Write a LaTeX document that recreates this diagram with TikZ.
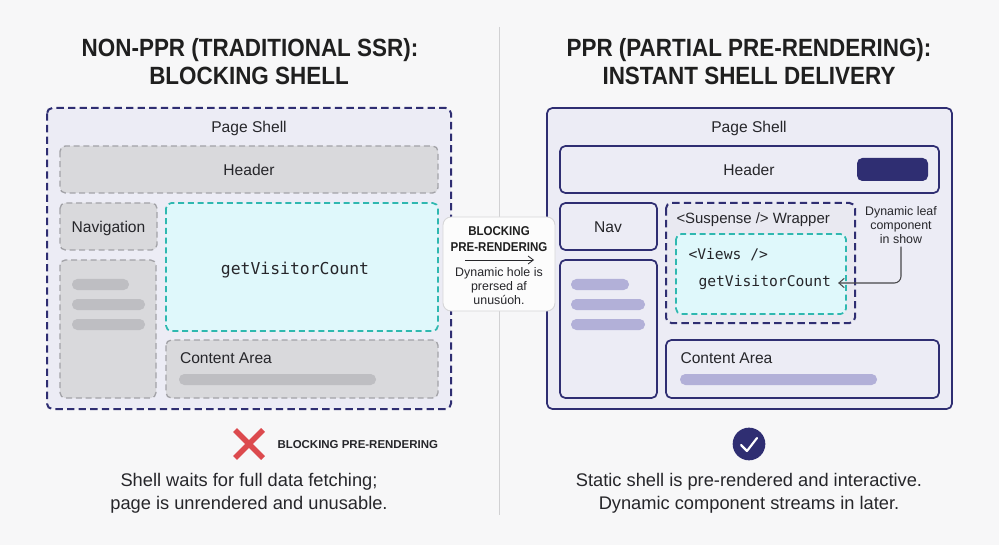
\documentclass[tikz,border=0pt]{standalone}
\usepackage{fontspec}
\setmainfont{Liberation Sans}
\setmonofont{DejaVu Sans Mono}
\newfontfamily\titlefont[FakeStretch=0.9]{Liberation Sans}
\usetikzlibrary{arrows.meta}

\definecolor{pagebg}{HTML}{F7F7F8}
\definecolor{navyline}{HTML}{2F2E72}
\definecolor{shellfill}{HTML}{ECECF5}
\definecolor{grayfill}{HTML}{D9D9DC}
\definecolor{grayline}{HTML}{A3A3A8}
\definecolor{graybar}{HTML}{BEBEC2}
\definecolor{cyanfill}{HTML}{DFF8FB}
\definecolor{cyanline}{HTML}{2FB8B0}
\definecolor{lavbar}{HTML}{B2B0D8}
\definecolor{inkline}{HTML}{26262A}
\definecolor{crossred}{HTML}{DC4A4E}

\tikzset{
	every picture/.style={line width=0.75pt},
	navydash/.style={draw=navyline,line width=1.5pt,dash pattern={on 5.5pt off 3.2pt},rounded corners=4pt},
	navybox/.style={draw=navyline,line width=1.3pt,rounded corners=4pt,fill=shellfill},
	graybox/.style={draw=grayline,fill=grayfill,line width=1pt,dash pattern={on 4.5pt off 2.8pt},rounded corners=4pt},
	cyanbox/.style={draw=cyanline,fill=cyanfill,line width=1.3pt,dash pattern={on 4.5pt off 2.8pt},rounded corners=4pt},
	lbl/.style={text=inkline,font=\fontsize{11.7}{14}\selectfont,inner sep=0pt},
	titlelbl/.style={text=black!88,font=\titlefont\bfseries\fontsize{18.7}{22}\selectfont,inner sep=0pt,anchor=base},
	caption/.style={text=inkline,font=\fontsize{13.7}{16}\selectfont,inner sep=0pt},
	codelbl/.style={text=inkline,inner sep=0pt},
}

\begin{document}
\begin{tikzpicture}[x=0.75pt,y=0.75pt,yscale=-1,xscale=1]
	\useasboundingbox (0,0) rectangle (999,545);
	\fill [pagebg] (0,0) rectangle (999,545);

	%Straight Lines: divider
	\draw [color=grayline!50,line width=0.7pt] (499,27) -- (499,515);

	% Left panel
	\draw [navydash,fill=shellfill] (47,108) rectangle (451,409);
	\draw [graybox] (60,146) rectangle (438,193);
	\draw [graybox] (60,203) rectangle (157,250);
	\draw [graybox] (60,260) rectangle (156,398);
	\draw [cyanbox] (166,203) rectangle (438,331);
	\draw [graybox] (166,340) rectangle (438,398);
	\fill [graybar,rounded corners=4pt] (72,279) rectangle (129,290);
	\fill [graybar,rounded corners=4pt] (72,299) rectangle (145,310);
	\fill [graybar,rounded corners=4pt] (72,319) rectangle (145,330);
	\fill [graybar,rounded corners=4pt] (179,374) rectangle (376,385);

	% Right panel
	\draw [navybox] (547,108) rectangle (952,409);
	\draw [navybox] (560,146) rectangle (939,193);
	\fill [navyline,rounded corners=4pt] (857,158) rectangle (928,181);
	\draw [navybox] (560,203) rectangle (657,250);
	\draw [navybox] (560,260) rectangle (657,398);
	\draw [navydash,fill=shellfill!85!grayfill] (666,203) rectangle (855,323);
	\draw [cyanbox] (676,234) rectangle (846,314);
	\draw [navybox] (666,340) rectangle (939,398);
	\fill [lavbar,rounded corners=4pt] (571,279) rectangle (629,290);
	\fill [lavbar,rounded corners=4pt] (571,299) rectangle (645,310);
	\fill [lavbar,rounded corners=4pt] (571,319) rectangle (645,330);
	\fill [lavbar,rounded corners=4pt] (680,374) rectangle (877,385);

	% Blocking bubble
	\draw [draw=grayline!45,fill=white!60!pagebg,line width=0.7pt,rounded corners=6pt] (443,217) rectangle (555,311);

	% Titles
	\node [titlelbl] (titleLa) at (250,57) {NON-PPR (TRADITIONAL SSR):};
	\node [titlelbl] (titleLb) at (249,85) {BLOCKING SHELL};
	\node [titlelbl] (titleRa) at (749,57) {PPR (PARTIAL PRE-RENDERING):};
	\node [titlelbl] (titleRb) at (749,85) {INSTANT SHELL DELIVERY};

	% Text Node
	\node [lbl] (shellL) at (249,128) {Page Shell};
	\node [lbl] (headerL) at (249,170) {Header};
	\node [lbl] (navL) at (108.5,228) {Navigation};
	\node [codelbl,font=\ttfamily\fontsize{12.3}{15}\selectfont] (countL) at (295,270) {getVisitorCount};
	\node [lbl,anchor=west] (contentL) at (179.5,358) {Content Area};

	% Text Node
	\node [lbl] (shellR) at (749,128) {Page Shell};
	\node [lbl] (headerR) at (749,170) {Header};
	\node [lbl] (navR) at (608,227) {Nav};
	\node [lbl,font=\fontsize{11.2}{14}\selectfont,anchor=west] (suspenseR) at (676,220) {<Suspense /> Wrapper};
	\node [codelbl,font=\ttfamily\fontsize{11}{14}\selectfont,anchor=west] (viewsR) at (688,255) {<Views />};
	\node [codelbl,font=\ttfamily\fontsize{11}{14}\selectfont,anchor=west] (countR) at (698,283) {getVisitorCount};
	\node [lbl,anchor=west] (contentR) at (680,358) {Content Area};
	\node [text=inkline,font=\fontsize{9.3}{10.4}\selectfont,align=center,inner sep=0pt] (leafR) at (901,225) {Dynamic leaf\\component\\in show};

	% Bubble text
	\node [text=black!88,font=\titlefont\bfseries\fontsize{9.6}{11.5}\selectfont,align=center,inner sep=0pt] (bubbleT) at (499,239) {BLOCKING\\PRE-RENDERING};
	\coordinate (bubbleA) at (465,260);
	\coordinate (bubbleB) at (534,260);
	\draw [-{Straight Barb[length=4pt,width=6pt]},color=inkline,line width=0.6pt] (bubbleA) -- (bubbleB);
	\node [text=inkline,font=\fontsize{9.3}{10.4}\selectfont,align=center,inner sep=0pt] (bubbleD) at (499,286) {Dynamic hole is\\prersed af\\unusúoh.};

	%Straight Lines: callout
	\draw [-{Straight Barb[length=4pt,width=7pt]},color=inkline!85,line width=0.8pt,rounded corners=5pt,shorten >=5pt,shorten <=2pt] (leafR.south) |- (countR.east);

	% Status row
	\coordinate (crossC) at (249,444);
	\draw [crossred,line width=4pt] ([shift={(-14,-14)}]crossC) -- ([shift={(14,14)}]crossC);
	\draw [crossred,line width=4pt] ([shift={(-14,14)}]crossC) -- ([shift={(14,-14)}]crossC);
	\node [text=inkline,font=\bfseries\fontsize{8.6}{11}\selectfont,anchor=west,inner sep=0pt] (statusL) at (277,445) {BLOCKING PRE-RENDERING};
	\node [circle,fill=navyline,minimum size=24.5pt,inner sep=0pt] (checkC) at (749,444) {};
	\draw [white,line width=1.6pt,line cap=round,line join=round] ([shift={(-8,1)}]checkC.center) -- ([shift={(-2,7)}]checkC.center) -- ([shift={(8,-6)}]checkC.center);

	% Captions
	\node [caption] (capLa) at (249,481.5) {Shell waits for full data fetching;};
	\node [caption] (capLb) at (249,504.5) {page is unrendered and unusable.};
	\node [caption] (capRa) at (749,481.5) {Static shell is pre-rendered and interactive.};
	\node [caption] (capRb) at (749,504.5) {Dynamic component streams in later.};

\end{tikzpicture}
\end{document}
